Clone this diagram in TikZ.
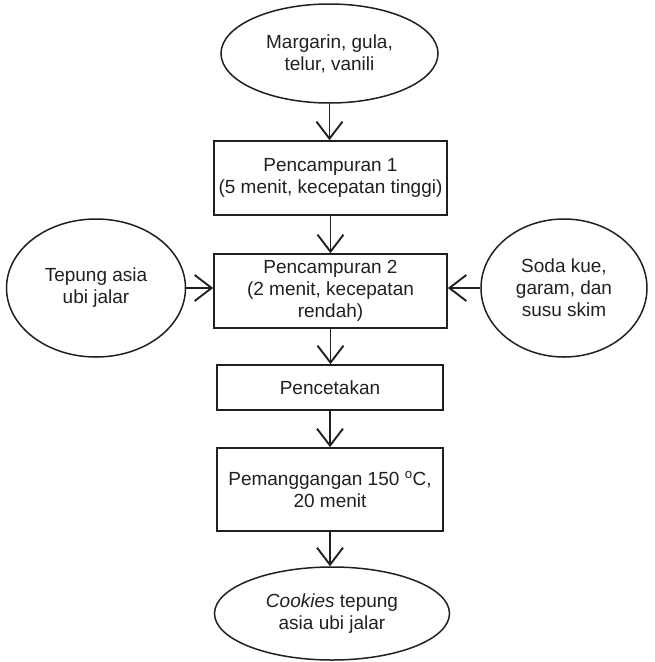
\documentclass[tikz,border=0pt]{standalone}
\usepackage{fontspec}
\setmainfont{Liberation Sans}
\usetikzlibrary{shapes.geometric,arrows.meta}
\definecolor{ink}{RGB}{35,31,32}
\begin{document}
\begin{tikzpicture}[x=1pt,y=-1pt,
  every node/.style={font=\fontsize{19}{22}\selectfont, text=ink, align=center},
  ell/.style={draw=ink, line width=1.5pt, ellipse, inner sep=0pt},
  boxn/.style={draw=ink, line width=1.6pt, rectangle, inner sep=0pt},
  arr/.style={draw=ink, line width=1.9pt, -{Straight Barb[length=17pt,width=26pt,line width=1.9pt]}}
]
\useasboundingbox (0,0) rectangle (654,662);
\node[ell, minimum width=217pt, minimum height=99pt] (top) at (329.5,53.5) {Margarin, gula,\\telur, vanili};
\node[boxn, minimum width=233pt, minimum height=74pt] (b1) at (330.5,178) {Pencampuran 1\\(5 menit, kecepatan tinggi)};
\node[boxn, minimum width=233pt, minimum height=74pt] (b2) at (330.5,291) {Pencampuran 2\\(2 menit, kecepatan\\rendah)};
\node[ell, minimum width=179pt, minimum height=138pt] (left) at (96,288) {Tepung asia\\ubi jalar};
\node[ell, minimum width=166pt, minimum height=138pt] (right) at (564,288) {Soda kue,\\garam, dan\\susu skim};
\node[boxn, minimum width=226pt, minimum height=45pt] (b3) at (330,387.5) {Pencetakan};
\node[boxn, minimum width=226pt, minimum height=83pt] (b4) at (330,489.5) {Pemanggangan 150 \textsuperscript{o}C,\\20 menit};
\node[ell, minimum width=235pt, minimum height=93pt] (bot) at (332,613.5) {\textit{Cookies} tepung\\asia ubi jalar};
\draw[arr] (top.south) -- (top.south |- b1.north);
\draw[arr] (b1.south) -- (b1.south |- b2.north);
\draw[arr] (left.east) -- (left.east -| b2.west);
\draw[arr] (right.west) -- (right.west -| b2.east);
\draw[arr] (b2.south) -- (b2.south |- b3.north);
\draw[arr] (b3.south) -- (b3.south |- b4.north);
\draw[arr] (b4.south) -- (b4.south |- bot.north);
\end{tikzpicture}
\end{document}
